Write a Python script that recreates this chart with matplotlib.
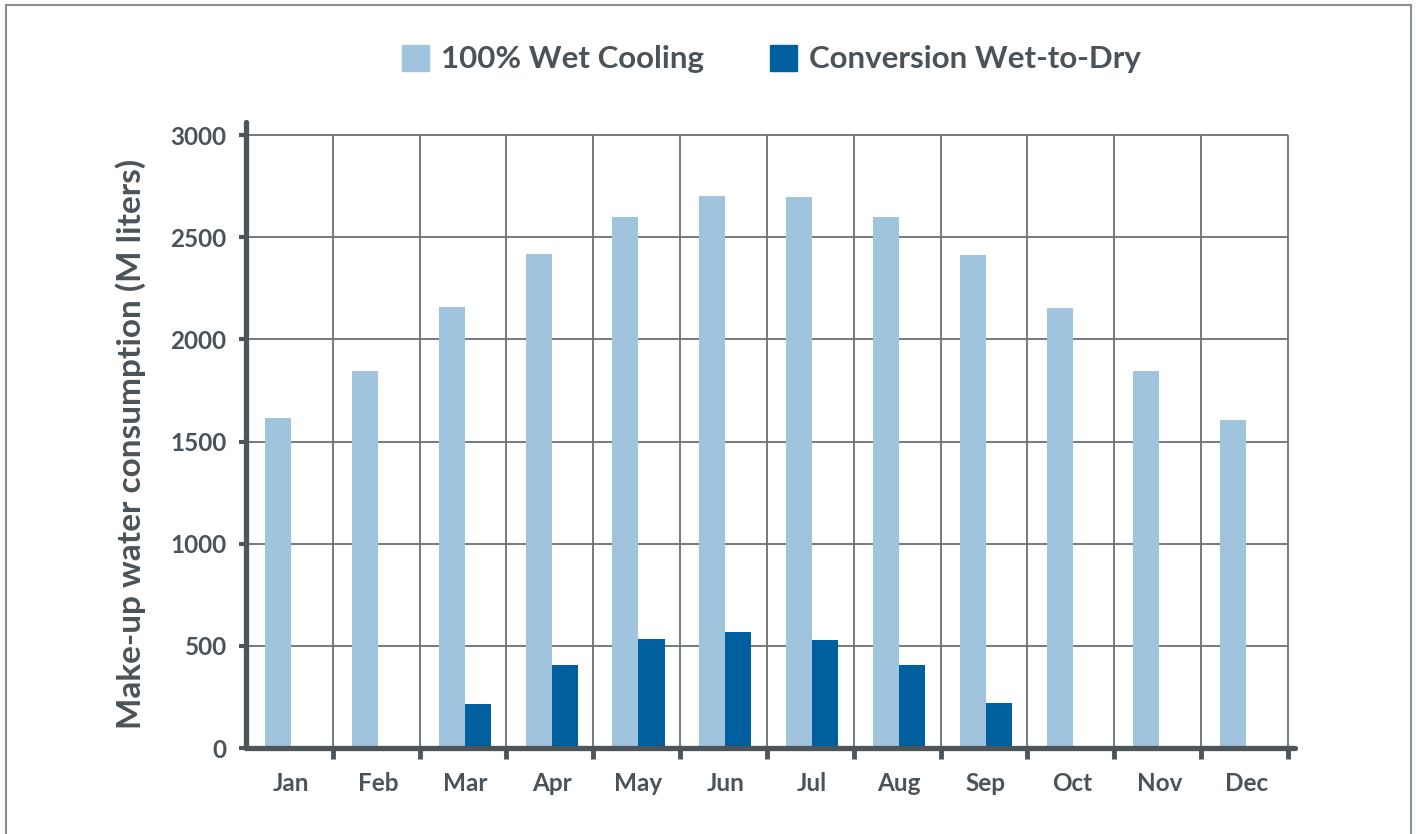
import matplotlib
matplotlib.use("Agg")
import matplotlib.pyplot as plt
from matplotlib.patches import Patch, Rectangle
import numpy as np

months = ["Jan", "Feb", "Mar", "Apr", "May", "Jun",
          "Jul", "Aug", "Sep", "Oct", "Nov", "Dec"]
wet_cooling = [1615, 1845, 2160, 2420, 2600, 2700, 2695, 2600, 2415, 2155, 1845, 1605]
wet_to_dry = [0, 0, 215, 406, 534, 569, 528, 406, 220, 0, 0, 0]
y_ticks = [0, 500, 1000, 1500, 2000, 2500, 3000]

light = "#a0c4de"
dark = "#005f9e"
txt = "#4a5359"
axcol = "#4d555b"
W = "bold"

plt.rcParams['font.family'] = ['Lato', 'DejaVu Sans']
plt.rcParams['font.weight'] = W

fig = plt.figure(figsize=(14.16, 8.34), dpi=100)
ax = fig.add_axes([246/1416, 1 - 748/834, (1295 - 246)/1416, (748 - 122)/834])

x = np.arange(len(months))
w = 0.3
shift = 0.02
ax.bar(x + shift - w/2, wet_cooling, width=w, color=light, zorder=2)
ax.bar(x + shift + w/2, wet_to_dry, width=w, color=dark, zorder=2)

ax.set_xlim(-0.5, 11.5 + 7/86.8)
ax.set_ylim(0, 3000 + 13/0.204)

# grid drawn by hand so it stops at the last month boundary
bounds = np.arange(len(months) + 1) - 0.5
ax.hlines(y_ticks[1:], -0.5, 11.5, color="#6b7075", lw=1.3, zorder=1)
ax.vlines(bounds[1:], 0, 3000, color="#6b7075", lw=1.3, zorder=1)

for s in ["top", "right"]:
    ax.spines[s].set_visible(False)
for s in ["left", "bottom"]:
    ax.spines[s].set_color(axcol)
    ax.spines[s].set_linewidth(3.8)
    ax.spines[s].set_capstyle("round")

ax.set_yticks(y_ticks)
ax.set_yticklabels([str(v) for v in y_ticks])
ax.tick_params(axis="y", length=5, width=3, color=axcol, labelsize=17.5,
               labelcolor=txt, pad=9)
ax.set_xticks(x + shift)
ax.set_xticklabels(months)
ax.set_xticks(bounds[1:], minor=True)
ax.tick_params(axis="x", which="major", length=0, labelsize=17.5,
               labelcolor=txt, pad=17)
ax.tick_params(axis="x", which="minor", length=8, width=3.5, color=axcol)
for t in ax.get_xticklabels() + ax.get_yticklabels():
    t.set_fontweight(W)

ax.set_ylabel("Make-up water consumption (M liters)", fontsize=24,
              fontweight=W, color=txt)
ax.yaxis.set_label_coords(-0.095, 0.486)

handles = [Patch(color=light, label="100% Wet Cooling"),
           Patch(color=dark, label="Conversion Wet-to-Dry")]
leg = fig.legend(handles=handles, loc="center", bbox_to_anchor=(0.545, 1 - 59/834),
                 ncol=2, frameon=False, fontsize=22.5, handlelength=0.85,
                 handleheight=0.9, handletextpad=0.4, columnspacing=2.1)
for t in leg.get_texts():
    t.set_color(txt)
    t.set_fontweight(W)

fig.patches.append(Rectangle((6/1416, -0.05), (1411 - 6)/1416, 1 - 5/834 + 0.05,
                             transform=fig.transFigure, fill=False,
                             edgecolor="#8a8d90", lw=1.5))

fig.savefig("out.png", dpi=100)
